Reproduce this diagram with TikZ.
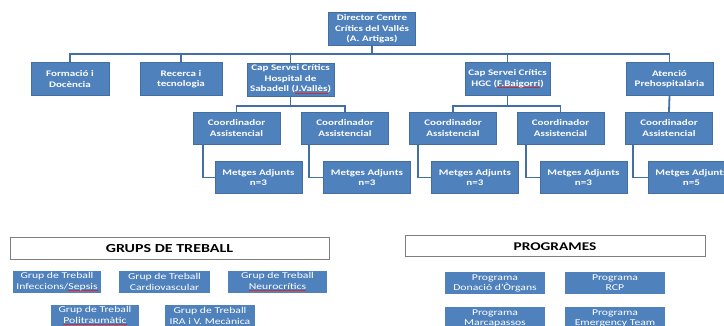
\documentclass[tikz,border=0pt]{standalone}
\usepackage{fontspec}
\setmainfont{Carlito}[FakeStretch=1.3]
\definecolor{boxblue}{HTML}{4F81BD}
\definecolor{lineblue}{HTML}{416FA6}
\definecolor{framegray}{HTML}{7F7F7F}
\definecolor{squig}{HTML}{E02828}
\newsavebox\sqbox
\newcommand\sqline[1]{\sbox\sqbox{#1}\leavevmode\rlap{\color{squig}\rule[-2.2pt]{\wd\sqbox}{1pt}}\usebox\sqbox}
\tikzset{
  orgbox/.style={rectangle, fill=boxblue, draw=boxblue!85!black, line width=0.4pt, text=white, font=\fontsize{8.5}{10.4}\selectfont\bfseries, align=center, inner sep=0.5pt},
  smallbox/.style={rectangle, fill=boxblue, text=white, font=\fontsize{9}{10.2}\selectfont, align=center, inner sep=0.5pt, minimum height=22pt},
  titlebox/.style={rectangle, fill=white, draw=framegray, line width=1pt, text=black, inner sep=1pt},
  conn/.style={draw=lineblue, line width=1.8pt}
}
\begin{document}
\begin{tikzpicture}[x=1pt, y=-1pt]
\useasboundingbox (0,0) rectangle (724,326);
\clip (0,0) rectangle (724,326);
% top level
\node[orgbox, minimum width=87pt, minimum height=33pt] (dir) at (372,29) {Director Centre\\Crítics del Vallés\\(A. Artigas)};
% level 1
\node[orgbox, minimum width=78pt, minimum height=33pt] (form) at (70,79) {Formació i\\Docència};
\node[orgbox, minimum width=82pt, minimum height=33pt] (rec) at (181,79) {Recerca i\\tecnologia};
\node[orgbox, minimum width=87pt, minimum height=33pt] (sab) at (290.5,79.5) {Cap Servei Crítics\\Hospital de\\Sabadell (\sqline{J.Vallès})};
\node[orgbox, minimum width=85pt, minimum height=33pt] (hgc) at (507.5,79) {Cap Servei Crítics\\HGC (\sqline{F.Baigorri})};
\node[orgbox, minimum width=87pt, minimum height=33pt] (ate) at (669.5,79) {Atenció\\Prehospitalària};
% coordinators
\node[orgbox, minimum width=87pt, minimum height=32pt] (c1) at (236.5,128) {Coordinador\\Assistencial};
\node[orgbox, minimum width=87pt, minimum height=32pt] (c2) at (345,128) {Coordinador\\Assistencial};
\node[orgbox, minimum width=87pt, minimum height=32pt] (c3) at (453,128) {Coordinador\\Assistencial};
\node[orgbox, minimum width=87pt, minimum height=32pt] (c4) at (560.5,128) {Coordinador\\Assistencial};
\node[orgbox, minimum width=87pt, minimum height=32pt] (c5) at (669,128) {Coordinador\\Assistencial};
% metges
\node[orgbox, minimum width=87pt, minimum height=32pt] (m1) at (258.5,177.5) {Metges Adjunts\\n=3};
\node[orgbox, minimum width=87pt, minimum height=32pt] (m2) at (367,177.5) {Metges Adjunts\\n=3};
\node[orgbox, minimum width=87pt, minimum height=32pt] (m3) at (475,177.5) {Metges Adjunts\\n=3};
\node[orgbox, minimum width=87pt, minimum height=32pt] (m4) at (583.5,177.5) {Metges Adjunts\\n=3};
\node[orgbox, minimum width=87pt, minimum height=32pt] (m5) at (691.5,177.5) {Metges Adjunts\\n=5};
% connectors
\coordinate (b1) at (372,54);
\draw[conn] (dir.south) -- (b1);
\draw[conn] (b1) -| (form.north);
\draw[conn] (b1) -| (rec.north);
\draw[conn] (b1) -| (sab.north);
\draw[conn] (b1) -| (hgc.north);
\draw[conn] (b1) -| (ate.north);
\coordinate (b2) at (290.5,106);
\draw[conn] (sab.south) -- (b2);
\draw[conn] (b2) -| (c1.north);
\draw[conn] (b2) -| (c2.north);
\coordinate (b3) at (507.5,106);
\draw[conn] (hgc.south) -- (b3);
\draw[conn] (b3) -| (c3.north);
\draw[conn] (b3) -| (c4.north);
\draw[conn] (ate.south) -- (c5.north);
\draw[conn] ([xshift=10pt]c1.south west) |- (m1.west);
\draw[conn] ([xshift=8pt]c2.south west) |- (m2.west);
\draw[conn] ([xshift=8.5pt]c3.south west) |- (m3.west);
\draw[conn] ([xshift=9pt]c4.south west) |- (m4.west);
\draw[conn] ([xshift=8pt]c5.south west) |- (m5.west);
% bottom left
\node[titlebox, font=\fontsize{12.3}{14}\selectfont\bfseries, minimum width=319pt, minimum height=22pt] (grups) at (169.5,249) {GRUPS DE TREBALL};
\node[smallbox, minimum width=88pt] (g1) at (57,282) {Grup de Treball\\Infeccions/\sqline{Sepsis}};
\node[smallbox, minimum width=91pt] (g2) at (164.5,282) {Grup de Treball\\Cardiovascular};
\node[smallbox, minimum width=99pt] (g3) at (277.5,282) {Grup de Treball\\\sqline{Neurocrítics}};
\node[smallbox, minimum width=88pt] (g4) at (95,316) {Grup de Treball\\\sqline{Politraumàtic}};
\node[smallbox, minimum width=90pt] (g5) at (210,316) {Grup de Treball\\IRA i V. Mecànica};
% bottom right
\node[titlebox, font=\fontsize{11.8}{14}\selectfont\bfseries, minimum width=300pt, minimum height=21pt] (progs) at (555,246.5) {PROGRAMES};
\node[smallbox, minimum width=100pt] (p1) at (495,283) {Programa\\Donació d’Òrgans};
\node[smallbox, minimum width=100pt] (p2) at (615,283) {Programa\\RCP};
\node[smallbox, minimum width=100pt] (p3) at (495,318) {Programa\\Marcapassos};
\node[smallbox, minimum width=100pt] (p4) at (615,318) {Programa\\Emergency Team};
\end{tikzpicture}
\end{document}
